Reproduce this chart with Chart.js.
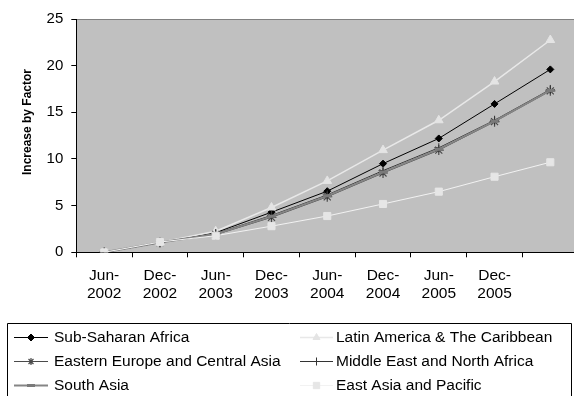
<!DOCTYPE html>
<html>
<head>
<meta charset="utf-8">
<script src="https://cdn.jsdelivr.net/npm/chart.js@4/dist/chart.umd.min.js"></script>
<style>
  html, body { margin: 0; padding: 0; background: #ffffff; overflow: hidden; width: 574px; height: 396px; }
  #wrap { width: 590px; height: 396px; position: relative; }
</style>
</head>
<body>
<div id="wrap"><canvas id="c"></canvas></div>
<script>
// Half-yearly periods; the final period carries no printed label
const periods = ['Jun-2002', 'Dec-2002', 'Jun-2003', 'Dec-2003', 'Jun-2004', 'Dec-2004', 'Jun-2005', 'Dec-2005', 'Jun-2006'];

// Increase by factor, per region
const subSaharanAfrica       = [0, 1.05, 2.1, 4.3, 6.55, 9.5, 12.2, 15.9, 19.6];
const latinAmericaCaribbean  = [0, 1.05, 2.25, 4.8, 7.65, 10.95, 14.15, 18.3, 22.75];
const easternEuropeCentralAs = [0, 1.05, 1.9, 3.75, 5.95, 8.5, 10.95, 14.0, 17.3];
const middleEastNorthAfrica  = [0, 1.05, 2.0, 3.95, 6.15, 8.75, 11.2, 14.15, 17.45];
const southAsia              = [0, 1.05, 1.95, 3.85, 6.05, 8.6, 11.05, 14.05, 17.35];
const eastAsiaPacific        = [0, 1.1, 1.78, 2.8, 3.89, 5.18, 6.5, 8.1, 9.65];

const yTicks = [0, 5, 10, 15, 20, 25];
const yTitle = 'Increase by Factor';

const FONT = '"Liberation Sans", Arial, sans-serif';
Chart.defaults.font.family = FONT;
Chart.defaults.color = '#000';

function series(label, data, o) {
  return {
    label, data,
    borderColor: o.line, borderWidth: o.lw,
    pointStyle: o.style, pointRadius: o.r, legendRadius: o.lr || o.r,
    pointBackgroundColor: o.fill, pointBorderColor: o.stroke, pointBorderWidth: o.pbw,
    pointHoverRadius: o.r, tension: 0, fill: false, order: o.order
  };
}

const datasets = [
  series('Sub-Saharan Africa', subSaharanAfrica, { line: '#000000', lw: 1, style: 'rectRot', r: 3.5, fill: '#000000', stroke: '#000000', pbw: 1, order: 5 }),
  series('Latin America & The Caribbean', latinAmericaCaribbean, { line: '#e8e8e8', lw: 1.5, style: 'triangle', r: 5, lr: 4, fill: '#e4e4e4', stroke: '#e4e4e4', pbw: 1, order: 4 }),
  series('Eastern Europe and Central Asia', easternEuropeCentralAs, { line: '#4a4a4a', lw: 1, style: 'star', r: 5, lr: 3.5, fill: '#4a4a4a', stroke: '#4a4a4a', pbw: 1.2, order: 3 }),
  series('Middle East and North Africa', middleEastNorthAfrica, { line: '#333333', lw: 1, style: 'cross', r: 4.5, lr: 4, fill: '#333333', stroke: '#333333', pbw: 1, order: 2 }),
  series('South Asia', southAsia, { line: '#858585', lw: 2, style: 'line', r: 4, fill: '#7a7a7a', stroke: '#7a7a7a', pbw: 3, order: 1 }),
  series('East Asia and Pacific', eastAsiaPacific, { line: '#f2f2f2', lw: 1, style: 'rect', r: 5, lr: 4.5, fill: '#e6e6e6', stroke: '#e6e6e6', pbw: 1, order: 0 })
];

// Grey plot area with a thin top frame line
const plotBackground = {
  id: 'plotBackground',
  beforeDraw(chart) {
    const { ctx, chartArea: a } = chart;
    ctx.save();
    ctx.fillStyle = '#c0c0c0';
    ctx.fillRect(a.left, a.top, a.right - a.left, a.bottom - a.top);
    ctx.strokeStyle = '#808080';
    ctx.lineWidth = 1;
    ctx.beginPath();
    ctx.moveTo(a.left, a.top + 0.5);
    ctx.lineTo(a.right, a.top + 0.5);
    ctx.stroke();
    ctx.restore();
  }
};

// Rotated y-axis title
const axisTitle = {
  id: 'axisTitle',
  afterDraw(chart) {
    const ctx = chart.ctx;
    ctx.save();
    ctx.translate(28, 122);
    ctx.rotate(-Math.PI / 2);
    ctx.font = 'bold 12px ' + FONT;
    ctx.fillStyle = '#000';
    ctx.textAlign = 'center';
    ctx.textBaseline = 'middle';
    ctx.fillText(yTitle, 0, 0);
    ctx.restore();
  }
};

// Framed two-column legend below the plot
const boxLegend = {
  id: 'boxLegend',
  afterDraw(chart) {
    const ctx = chart.ctx;
    ctx.save();
    ctx.strokeStyle = '#000';
    ctx.lineWidth = 1;
    ctx.beginPath();
    ctx.moveTo(571.5, 400);
    ctx.lineTo(571.5, 323.5);
    ctx.lineTo(7.5, 323.5);
    ctx.lineTo(7.5, 400);
    ctx.stroke();
    chart.data.datasets.forEach((ds, i) => {
      const col = i % 2, row = Math.floor(i / 2);
      const x0 = col ? 300 : 14, x1 = col ? 333 : 48;
      const y = 337 + row * 24;
      ctx.strokeStyle = ds.borderColor;
      ctx.lineWidth = ds.borderWidth;
      ctx.beginPath();
      ctx.moveTo(x0, y + 0.5);
      ctx.lineTo(x1, y + 0.5);
      ctx.stroke();
      ctx.fillStyle = ds.pointBackgroundColor;
      ctx.strokeStyle = ds.pointBorderColor;
      ctx.lineWidth = ds.pointBorderWidth;
      Chart.helpers.drawPoint(ctx, {
        pointStyle: ds.pointStyle, radius: ds.legendRadius, rotation: 0, borderWidth: ds.pointBorderWidth
      }, (x0 + x1) / 2, y + 0.5);
      ctx.fillStyle = '#000';
      ctx.font = '15.5px ' + FONT;
      ctx.textAlign = 'left';
      ctx.textBaseline = 'middle';
      ctx.fillText(ds.label, col ? 336 : 54, y + 1);
    });
    ctx.restore();
  }
};

new Chart(document.getElementById('c'), {
  type: 'line',
  data: { labels: periods, datasets },
  plugins: [plotBackground, axisTitle, boxLegend],
  options: {
    responsive: true,
    maintainAspectRatio: false,
    animation: false,
    events: [],
    layout: { padding: { left: 0, top: 19, right: 11.8, bottom: 72.3 } },
    plugins: { legend: { display: false }, tooltip: { enabled: false } },
    scales: {
      x: {
        type: 'category',
        offset: true,
        grid: { offset: true, drawOnChartArea: false, drawTicks: true, tickLength: 5, color: '#000' },
        border: { color: '#000', width: 1 },
        ticks: {
          autoSkip: false, maxRotation: 0, minRotation: 0, padding: 9,
          font: { size: 15.5, lineHeight: 1.2 }, color: '#000',
          callback(value, index) {
            if (index === periods.length - 1) return '';
            const p = periods[index].split('-');
            return [p[0] + '-', p[1]];
          }
        },
        afterFit(scale) { scale.height = 71.4; }
      },
      y: {
        min: yTicks[0], max: yTicks[yTicks.length - 1],
        grid: { drawOnChartArea: false, drawTicks: true, tickLength: 5, color: '#000' },
        border: { color: '#000', width: 1 },
        ticks: { stepSize: yTicks[1] - yTicks[0], padding: 8, font: { size: 15 }, color: '#000' },
        afterFit(scale) { scale.width = 76.3; }
      }
    }
  }
});
</script>
</body>
</html>
